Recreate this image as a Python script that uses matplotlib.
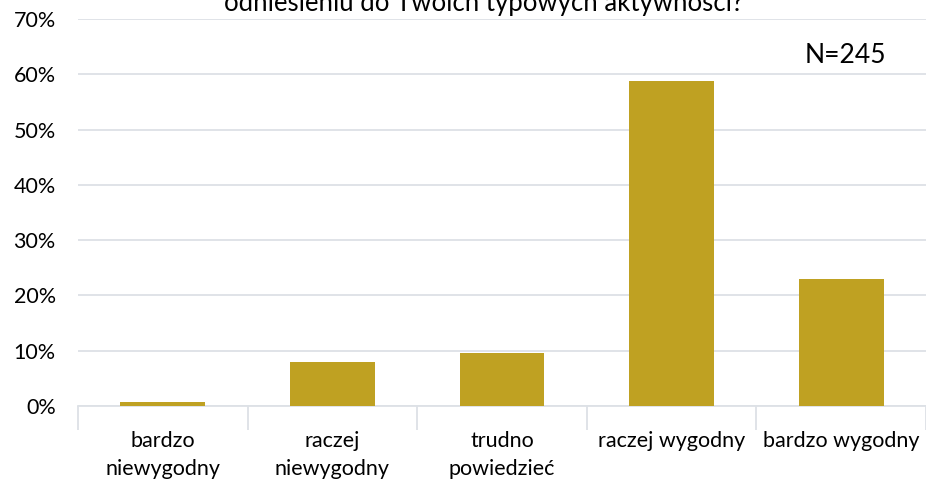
import matplotlib
matplotlib.use("Agg")
from matplotlib import pyplot as plt
from matplotlib.ticker import PercentFormatter
import numpy as np

# data
categories = ["bardzo\nniewygodny", "raczej\nniewygodny", "trudno\npowiedzieć",
              "raczej wygodny", "bardzo wygodny"]
shares = [0.007, 0.080, 0.096, 0.588, 0.230]
yticks = [0, 0.1, 0.2, 0.3, 0.4, 0.5, 0.6, 0.7]

plt.rcParams['font.family'] = ['Lato', 'DejaVu Sans']

fig = plt.figure(figsize=(9.26, 4.79), dpi=100)
ax = fig.add_axes([78 / 926, 1 - 406 / 479, 1 - 78 / 926, (406 - 19) / 479])

x = np.arange(len(categories))
ax.bar(x, shares, width=0.5, color="#BFA122", zorder=3)

ax.set_xlim(-0.5, len(categories) - 0.5)
ax.set_ylim(0, 0.7)
ax.set_yticks(yticks)
ax.yaxis.set_major_formatter(PercentFormatter(1.0, decimals=0))
ax.grid(axis='y', color="#DDE1E6", linewidth=1.3, zorder=0)

ax.set_xticks(x)
ax.set_xticklabels(categories, fontsize=15.5, linespacing=1.5)
ax.set_xticks(np.arange(len(categories) + 1) - 0.5, minor=True)
ax.tick_params(axis='x', which='major', length=0, pad=18)
ax.tick_params(axis='x', which='minor', length=17, color="#DDE1E6", width=1.3)
ax.tick_params(axis='y', length=0, pad=16, labelsize=15.5)

for side in ['top', 'right', 'left']:
    ax.spines[side].set_visible(False)
ax.spines['bottom'].set_color("#DDE1E6")
ax.spines['bottom'].set_linewidth(1.3)

ax.text(0.905, 0.905, "N=245", transform=ax.transAxes, fontsize=19,
        ha='center', va='center')

# second line of the title; the first one falls outside the picture
fig.text(0.522, 1 - 3 / 479, "odniesieniu do Twoich typowych aktywności?",
         fontsize=18.5, ha='center', va='center')

fig.savefig("out.png", dpi=100)
